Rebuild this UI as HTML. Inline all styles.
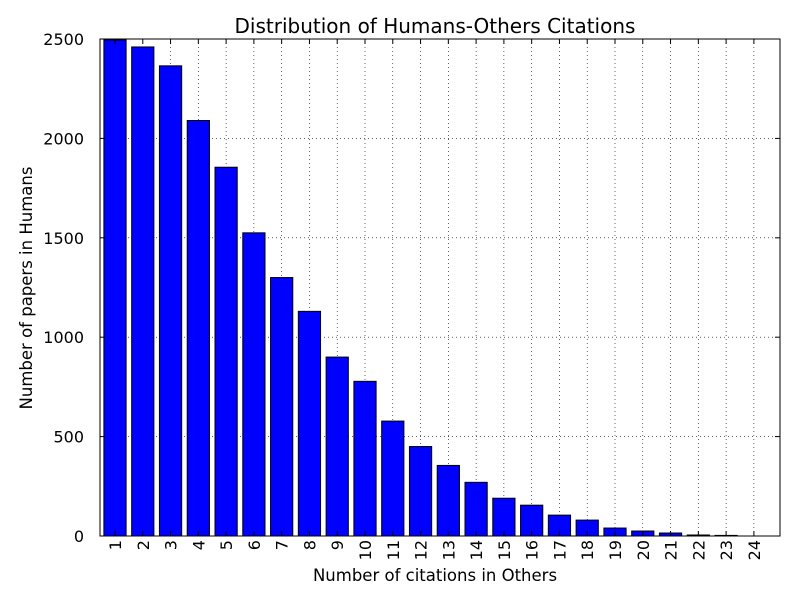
<!DOCTYPE html>
<html><head><meta charset="utf-8"><style>
body{margin:0;background:#fff}
svg{display:block;font-family:"DejaVu Sans","Liberation Sans",sans-serif}
</style></head><body>
<svg id="chart" width="800" height="600" xmlns="http://www.w3.org/2000/svg">
<rect width="800" height="600" fill="#fff"/>
<text x="435" y="33" font-size="20" text-anchor="middle">Distribution of Humans-Others Citations</text>
<text x="435" y="581" font-size="16.5" text-anchor="middle">Number of citations in Others</text>
<text x="0" y="0" font-size="16.5" text-anchor="middle" transform="translate(32,288) rotate(-90)">Number of papers in Humans</text>
<g id="grid"></g><g id="bars"></g><g id="ticks"></g>
<rect x="100" y="39" width="680" height="497" fill="none" stroke="#000" stroke-width="1"/>
</svg>
<script>
const categories = [1,2,3,4,5,6,7,8,9,10,11,12,13,14,15,16,17,18,19,20,21,22,23,24];
const values = [2495,2460,2365,2090,1855,1525,1300,1130,900,778,578,450,355,270,190,155,105,80,40,25,15,5,3,0];
const yTicks = [0,500,1000,1500,2000,2500];
const NS="http://www.w3.org/2000/svg";
const L=100,R=780,T=39,B=536,xmin=0.46,xmax=24.94,ymax=2500;
const xs=v=>L+(v-xmin)/(xmax-xmin)*(R-L);
const ys=v=>B-v/ymax*(B-T);
function mk(tag,attrs,parent){const e=document.createElementNS(NS,tag);for(const k in attrs)e.setAttribute(k,attrs[k]);parent.appendChild(e);return e;}
const grid=document.getElementById('grid'),bars=document.getElementById('bars'),ticks=document.getElementById('ticks');
yTicks.forEach(t=>{
  const y=ys(t);
  const g=mk('line',{x1:L,x2:R,y1:y,y2:y,stroke:'#000','stroke-width':0.6,'stroke-dasharray':'1,3'},grid);
  
  
  mk('line',{x1:L,x2:L+5,y1:y,y2:y,stroke:'#000'},ticks);
  mk('line',{x1:R-5,x2:R,y1:y,y2:y,stroke:'#000'},ticks);
  const tx=mk('text',{x:L-16,y:y+6,'font-size':16,'text-anchor':'end'},ticks);
  tx.textContent=t;
  
  
});
categories.forEach((c,i)=>{
  const x=xs(c);
  const g=mk('line',{x1:x,x2:x,y1:T,y2:B,stroke:'#000','stroke-width':0.6,'stroke-dasharray':'1,3'},grid);
  
  
  const w=xs(c+0.4)-xs(c-0.4);
  const y=ys(values[i]);
  const r=mk('rect',{x:xs(c-0.4),y:y,width:w,height:B-y,fill:'#0000ff',stroke:'#000','stroke-width':1},bars);
  
  
  mk('line',{x1:x,x2:x,y1:B,y2:B-5,stroke:'#000'},ticks);
  mk('line',{x1:x,x2:x,y1:T,y2:T+5,stroke:'#000'},ticks);
  const tx=mk('text',{x:0,y:0,'font-size':16,'text-anchor':'end',transform:`translate(${x+6},${B+4}) rotate(-90)`},ticks);
  tx.textContent=c;
  
  
});
</script>
</body></html>
